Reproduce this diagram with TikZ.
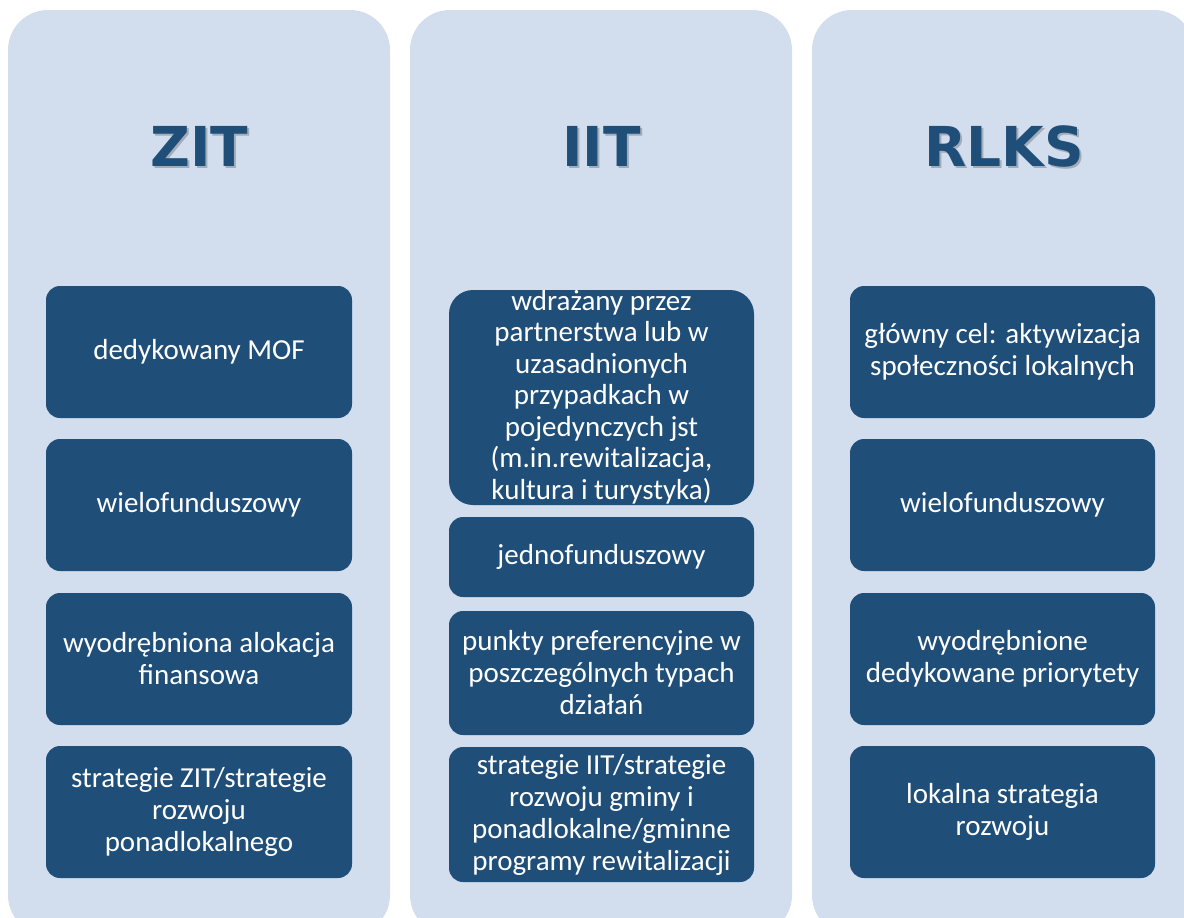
\documentclass[tikz,border=0pt]{standalone}
\usepackage{fontspec}
\setmainfont{Carlito}
\newfontfamily\titlefont{DejaVu Sans}
\definecolor{colfill}{HTML}{D2DDEE}
\definecolor{boxfill}{HTML}{1F4E79}
\begin{document}
\begin{tikzpicture}[x=1pt,y=-1pt,
  column/.style={fill=colfill, rounded corners=40pt},
  itembox/.style={fill=boxfill, rounded corners=14pt, text=white, align=center,
    font=\fontsize{29}{32}\selectfont, inner sep=0pt, minimum width=306pt},
  itemtext/.style={text=white, align=center, font=\fontsize{29}{31.5}\selectfont, inner sep=0pt},
  title/.style={font=\titlefont\bfseries\fontsize{55}{60}\selectfont, text=boxfill, anchor=base},
  titleshadow/.style={font=\titlefont\bfseries\fontsize{55}{60}\selectfont, text=black, opacity=0.22, anchor=base}]
\useasboundingbox (0,0) rectangle (1184,918);
\clip (0,0) rectangle (1184,918);
% columns
\fill[column] (8,10) rectangle (390,935);
\fill[column] (410,10) rectangle (792,935);
\fill[column] (812,10) rectangle (1194,935);
% titles
\node[titleshadow] (zits) at (201.5,168) {ZIT};
\node[title] (zit) at (199.5,166) {ZIT};
\node[titleshadow] (iits) at (603.5,168) {IIT};
\node[title] (iit) at (601.5,166) {IIT};
\node[titleshadow] (rlkss) at (1006,168) {RLKS};
\node[title] (rlks) at (1004,166) {RLKS};
% ZIT column
\node[itembox, minimum height=132pt] (z1) at (199,352) {dedykowany MOF};
\node[itembox, minimum height=132pt] (z2) at (199,505) {wielofunduszowy};
\node[itembox, minimum height=132pt] (z3) at (199,659) {wyodrębniona alokacja\\finansowa};
\node[itembox, minimum height=132pt] (z4) at (199,812) {strategie ZIT/strategie\\rozwoju\\ponadlokalnego};
% IIT column
\node[itembox, minimum width=305pt, minimum height=215pt, rounded corners=24pt] (i1) at (601.5,397.5) {};
\node[itemtext] (i1t) at (601.5,397) {wdrażany przez\\partnerstwa lub w\\uzasadnionych\\przypadkach w\\pojedynczych jst\\(m.in.rewitalizacja,\\kultura i turystyka)};
\node[itembox, minimum width=305pt, minimum height=80pt] (i2) at (601.5,557) {jednofunduszowy};
\node[itembox, minimum width=305pt, minimum height=124pt] (i3) at (601.5,673) {punkty preferencyjne w\\poszczególnych typach\\działań};
\node[itembox, minimum width=305pt, minimum height=135pt] (i4) at (601.5,814.5) {strategie IIT/strategie\\rozwoju gminy i\\ponadlokalne/gminne\\programy rewitalizacji};
% RLKS column
\node[itembox, minimum width=305pt, minimum height=132pt] (r1) at (1002.5,352) {główny cel: aktywizacja\\społeczności lokalnych};
\node[itembox, minimum width=305pt, minimum height=132pt] (r2) at (1002.5,505) {wielofunduszowy};
\node[itembox, minimum width=305pt, minimum height=132pt] (r3) at (1002.5,659) {wyodrębnione\\dedykowane priorytety};
\node[itembox, minimum width=305pt, minimum height=132pt] (r4) at (1002.5,812) {lokalna strategia\\rozwoju};
\end{tikzpicture}
\end{document}
